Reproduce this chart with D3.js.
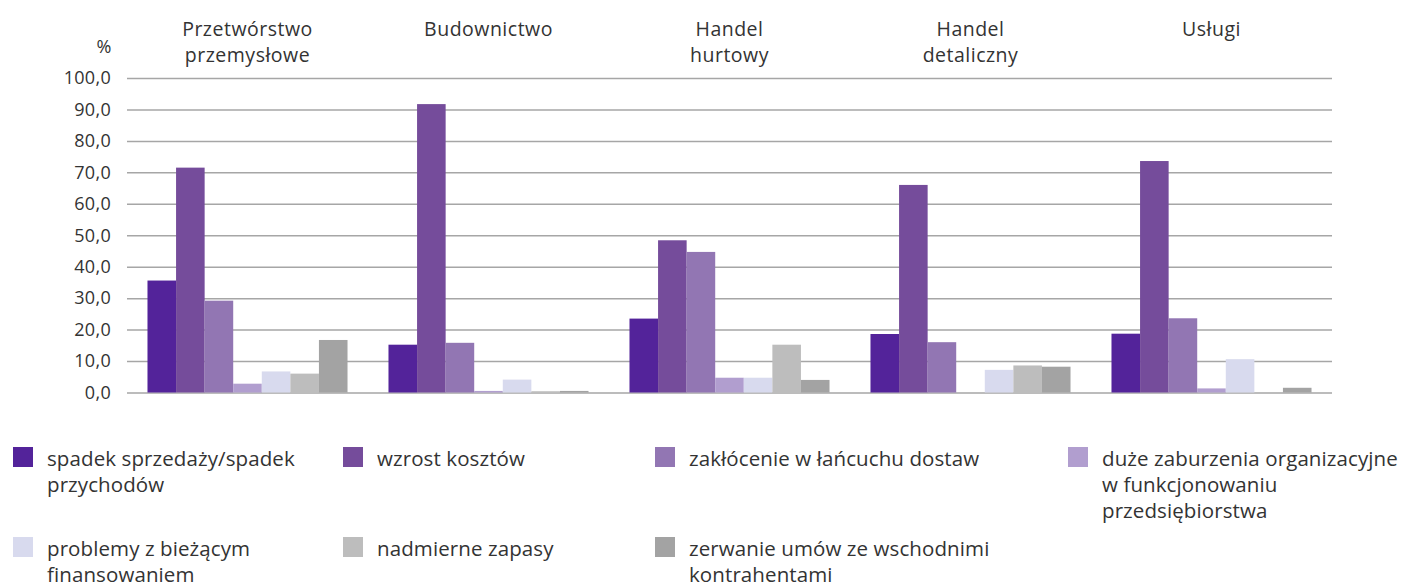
<!DOCTYPE html>
<html>
<head>
<meta charset="utf-8">
<script src="https://cdn.jsdelivr.net/npm/d3@7"></script>
<style>
  body { margin: 0; background: #fff; }
  svg text { font-family: 'Open Sans', sans-serif; fill: #333; }
</style>
</head>
<body>
<svg class="barChart" width="1405" height="588"></svg>
<script>
const sectors = [
  ["Przetwórstwo", "przemysłowe"],
  ["Budownictwo"],
  ["Handel", "hurtowy"],
  ["Handel", "detaliczny"],
  ["Usługi"]
];

const seriesNames = [
  ["spadek sprzedaży/spadek", "przychodów"],
  ["wzrost kosztów"],
  ["zakłócenie w łańcuchu dostaw"],
  ["duże zaburzenia organizacyjne", "w funkcjonowaniu", "przedsiębiorstwa"],
  ["problemy z bieżącym", "finansowaniem"],
  ["nadmierne zapasy"],
  ["zerwanie umów ze wschodnimi", "kontrahentami"]
];

const colors = ["#53239a", "#754c9b", "#9276b3", "#b19ecf", "#d8daee", "#bdbdbd", "#a3a3a3"];

// one row per sector, one value per series
const values = [
  [35.6, 71.5, 29.2, 2.8, 6.7, 6.0, 16.7],
  [15.2, 91.7, 15.8, 0.5, 4.1, 0.4, 0.5],
  [23.5, 48.4, 44.7, 4.7, 4.7, 15.2, 4.0],
  [18.6, 66.0, 16.0, 0.0, 7.2, 8.6, 8.2],
  [18.7, 73.6, 23.6, 1.3, 10.6, 0.0, 1.5]
];

const yTicks = [0, 10, 20, 30, 40, 50, 60, 70, 80, 90, 100];

const svg = d3.select('svg.barChart');

const plot = {left: 127, right: 1332, top: 78, bottom: 392.5};

const x0 = d3.scaleBand()
  .domain(d3.range(sectors.length))
  .range([plot.left, plot.right])
  .paddingInner(0.17)
  .paddingOuter(0.085);

const x1 = d3.scaleBand()
  .domain(d3.range(seriesNames.length))
  .range([0, x0.bandwidth()]);

const y = d3.scaleLinear()
  .domain([0, 100])
  .range([plot.bottom, plot.top]);

const fmt = v => d3.format('.1f')(v).replace('.', ',');

// grid + y labels
const yAxis = d3.axisLeft(y)
  .tickValues(yTicks)
  .tickSize(-(plot.right - plot.left))
  .tickPadding(16)
  .tickFormat(fmt);

const yG = svg.append('g')
  .attr('transform', `translate(${plot.left},0)`)
  .call(yAxis);
yG.select('.domain').remove();
yG.selectAll('line').attr('stroke', '#a6a6a6').attr('stroke-width', 1.5);
yG.selectAll('text')
  .style('font-size', '18px')
  .style('letter-spacing', '0.3px')
  .style('fill', '#333')
  .style('font-family', "'Open Sans', sans-serif");

svg.append('text')
  .text('%')
  .attr('x', 104)
  .attr('y', 53)
  .attr('text-anchor', 'middle')
  .style('font-size', '18px');

// bars
const groups = svg.selectAll('g.sector')
  .data(values)
  .enter()
  .append('g')
  .attr('class', 'sector')
  .attr('transform', (d, i) => `translate(${x0(i)},0)`);

groups.selectAll('rect')
  .data(d => d)
  .enter()
  .append('rect')
  .attr('x', (d, i) => x1(i))
  .attr('width', x1.bandwidth())
  .attr('y', d => y(d))
  .attr('height', d => y(0) - y(d))
  .attr('fill', (d, i) => colors[i]);

// sector labels on top
const secLabels = svg.selectAll('text.sector')
  .data(sectors)
  .enter()
  .append('text')
  .attr('class', 'sector')
  .attr('text-anchor', 'middle')
  .attr('x', (d, i) => x0(i) + x0.bandwidth() / 2)
  .attr('y', 36)
  .style('font-size', '19.5px')
  .style('letter-spacing', '0.5px');

secLabels.selectAll('tspan')
  .data(d => d)
  .enter()
  .append('tspan')
  .attr('x', function() { return d3.select(this.parentNode).attr('x'); })
  .attr('dy', (d, i) => i === 0 ? 0 : 26)
  .text(d => d);

// legend
const legendCols = [13, 343, 655, 1068];
const legendRows = [447, 537];
const legend = svg.selectAll('g.legendItem')
  .data(seriesNames)
  .enter()
  .append('g')
  .attr('class', 'legendItem')
  .attr('transform', (d, i) => `translate(${legendCols[i % 4]},${legendRows[Math.floor(i / 4)]})`);

legend.append('rect')
  .attr('width', 20)
  .attr('height', 20)
  .attr('fill', (d, i) => colors[i]);

legend.append('text')
  .attr('x', 34)
  .attr('y', 19)
  .style('font-size', '20.5px')
  .style('letter-spacing', '0.1px')
  .selectAll('tspan')
  .data(d => d)
  .enter()
  .append('tspan')
  .attr('x', 34)
  .attr('dy', (d, i) => i === 0 ? 0 : 26)
  .text(d => d);
</script>
</body>
</html>
